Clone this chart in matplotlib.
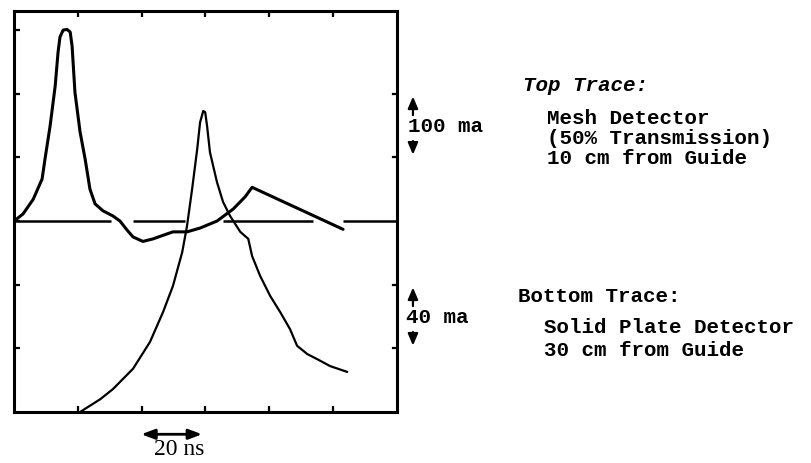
import matplotlib
matplotlib.use('Agg')
import numpy as np
import matplotlib.pyplot as plt

# time axis in ns (20 ns per division), signal in scope divisions
top_t = [0, 2.8, 6.0, 8.8, 9.7, 11.3, 12.9, 13.8, 14.4, 15.4, 16.6, 17.6, 18.2, 19.1,
         20.7, 22.3, 23.8, 25.4, 27.9, 31.0, 33.2, 35.4, 37.3, 40.4, 43.6, 45.8,
         49.8, 54.2, 58.3, 63.6, 68.7, 72.4, 74.6, 103.1]
top_v = [3.0, 3.11, 3.34, 3.66, 3.97, 4.49, 5.12, 5.65, 5.89, 6.00, 6.01, 5.97, 5.75, 5.02,
         4.40, 3.97, 3.50, 3.27, 3.16, 3.08, 3.00, 2.86, 2.75, 2.68, 2.72, 2.76,
         2.83, 2.83, 2.89, 3.00, 3.19, 3.38, 3.53, 2.87]

bot_t = [20.7, 27.0, 31.0, 37.3, 42.6, 46.7, 49.8, 52.7, 54.2, 55.8, 57.4, 58.3, 59.3,
         59.9, 60.5, 61.4, 63.6, 65.5, 67.7, 70.9, 73.4, 74.6, 77.1, 80.3, 83.4,
         86.5, 88.7, 91.9, 95.0, 99.1, 104.4]
bot_v = [0.0, 0.20, 0.36, 0.68, 1.10, 1.57, 1.98, 2.51, 2.92, 3.50, 4.13, 4.55, 4.73,
         4.71, 4.49, 4.08, 3.61, 3.30, 3.08, 2.83, 2.72, 2.45, 2.14, 1.82, 1.57,
         1.30, 1.04, 0.91, 0.83, 0.72, 0.63]

# zero line drawn as broken dashes
base_starts = [0, 37.3, 65.5, 103.1]
base_ends = [30.3, 53.6, 93.8, 120]
base_level = 3.0

x_ticks = [20, 40, 60, 80, 100]
y_ticks_left = [1, 2, 3, 4, 5, 6]
y_ticks_right = [1, 2, 4, 5]

top_notes = ['Mesh Detector', '(50% Transmission)', '10 cm from Guide']
bot_notes = ['Solid Plate Detector', '30 cm from Guide']

mono = 'Liberation Mono'
fs = 15

fig = plt.figure(figsize=(8.12, 4.64), dpi=100)
ax = fig.add_axes([14 / 812, 51 / 464, 383 / 812, 401 / 464])
ax.set_xlim(0, 120)
ax.set_ylim(0, 6.3)

ax.plot(top_t, top_v, color='black', lw=2.2, solid_capstyle='round', solid_joinstyle='round')
ax.plot(bot_t, bot_v, color='black', lw=1.6, solid_capstyle='round', solid_joinstyle='round')
ax.hlines([base_level] * len(base_starts), base_starts, base_ends, color='black', lw=1.8)

for s in ax.spines.values():
    s.set_linewidth(2.2)

ax.set_xticks(x_ticks)
ax.set_yticks(y_ticks_left)
ax.tick_params(axis='both', direction='in', length=4.5, width=1.6,
               top=True, labelbottom=False, labelleft=False)
for y in y_ticks_right:
    ax.plot([118.6, 120], [y, y], color='black', lw=1.6, clip_on=False)

# scale arrows to the right of the screen
ap = dict(arrowstyle='-|>,head_width=0.3,head_length=0.7', color='black', lw=1.6)
for lo, hi, lab, tx in [(4, 5, '100 ma', 123.6), (1, 2, '40 ma', 122.8)]:
    mid = (lo + hi) / 2
    ax.annotate('', xy=(125.0, hi), xytext=(125.0, mid + 0.12), arrowprops=ap,
                annotation_clip=False)
    ax.annotate('', xy=(125.0, lo), xytext=(125.0, mid - 0.2), arrowprops=ap,
                annotation_clip=False)
    ax.text(tx, mid, lab, family=mono, fontsize=fs, weight='bold', ha='left',
            va='center', clip_on=False)

# 20 ns time marker under the screen
ax.annotate('', xy=(39.0, -0.35), xytext=(59.8, -0.35),
            arrowprops=dict(arrowstyle='<|-|>,head_width=0.3,head_length=0.8',
                            color='black', lw=2.0), annotation_clip=False)
ax.text(51.7, -0.57, '20 ns', family='Liberation Serif', fontsize=17,
        ha='center', va='center', clip_on=False)

fig.text(523 / 812, 1 - 86 / 464, 'Top Trace:', family=mono, style='italic',
         weight='bold', fontsize=fs, va='center')
for i, s in enumerate(top_notes):
    fig.text(547 / 812, 1 - (119 + 20 * i) / 464, s, family=mono, weight='bold',
             fontsize=fs, va='center')

fig.text(518 / 812, 1 - 297 / 464, 'Bottom Trace:', family=mono, weight='bold',
         fontsize=fs, va='center')
for i, s in enumerate(bot_notes):
    fig.text(544 / 812, 1 - (328 + 23 * i) / 464, s, family=mono, weight='bold',
             fontsize=fs, va='center')

fig.savefig('out.png', dpi=100)
